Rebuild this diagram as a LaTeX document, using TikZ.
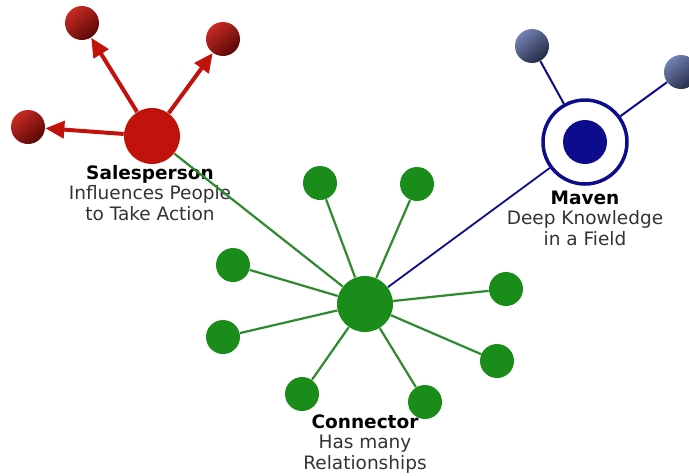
\documentclass[tikz,border=0pt]{standalone}
\usepackage{fontspec}
\setmainfont{DejaVu Sans}
\usetikzlibrary{arrows.meta}
\definecolor{salesred}{HTML}{C2120C}
\definecolor{conngreen}{HTML}{1A8C1A}
\definecolor{linegreen}{HTML}{2E8A2E}
\definecolor{mavenblue}{HTML}{0C0C8C}
\definecolor{slateblue}{HTML}{5A6AA8}

\begin{document}
\begin{tikzpicture}[x = 1pt, y = -1pt, thick,
    hub/.style = {circle, inner sep = 0pt, minimum size = 56pt},
    leaf/.style = {circle, inner sep = 0pt, minimum size = 34pt},
    redleaf/.style = {leaf, top color = salesred!90!white, bottom color = salesred!45!black, shading angle = 40},
    blueleaf/.style = {leaf, top color = slateblue!85!white, bottom color = slateblue!40!black, shading angle = 40},
    greenleaf/.style = {leaf, fill = conngreen},
    redarrow/.style = {salesred, line width = 4pt, -{Triangle[length = 19pt 0 0, width = 17pt 0 0]}},
    caption/.style = {align = center, text = black!80, font = \fontsize{18.5}{20.5}\selectfont}]
      \useasboundingbox (0, 0) rectangle (689, 475);

      % salesperson
      \node[hub, fill = salesred] (sales) at (152, 136) {};
      \node[redleaf] (s1) at (82, 23) {};
      \node[redleaf] (s2) at (223, 39) {};
      \node[redleaf] (s3) at (28, 127) {};
      \foreach \n in {s1, s2, s3} \draw[redarrow] (sales) -- (\n);
      \node[caption] (salestext) at (150, 193) {\textbf{\color{black}Salesperson}\\Influences People\\to Take Action};

      % maven
      \node[circle, draw = mavenblue, line width = 3.5pt, inner sep = 0pt, minimum size = 84pt] (maven) at (585, 142) {};
      \node[circle, fill = mavenblue, inner sep = 0pt, minimum size = 44pt] (mavencore) at (585, 142) {};
      \node[blueleaf] (m1) at (532, 46) {};
      \node[blueleaf] (m2) at (681, 72) {};
      \foreach \n in {m1, m2} \draw[mavenblue, line width = 2pt] (maven) -- (\n);
      \node[caption] (maventext) at (585, 218) {\textbf{\color{black}Maven}\\Deep Knowledge\\in a Field};

      % connector
      \node[hub, fill = conngreen] (conn) at (365, 304) {};
      \foreach \i/\x/\y in {1/320/183, 2/417/184, 3/233/265, 4/506/289, 5/223/337, 6/497/361, 7/302/394, 8/425/402} {
        \node[greenleaf] (c\i) at (\x, \y) {};
        \draw[linegreen, line width = 2.2pt] (conn) -- (c\i);
      }
      \draw[linegreen, line width = 2.2pt] (conn) -- (sales);
      \draw[mavenblue, line width = 1.8pt] (conn) -- (maven);
      \node[caption] (conntext) at (365, 444) {\textbf{\color{black}Connector}\\Has many\\Relationships};

    \end{tikzpicture}
\end{document}
